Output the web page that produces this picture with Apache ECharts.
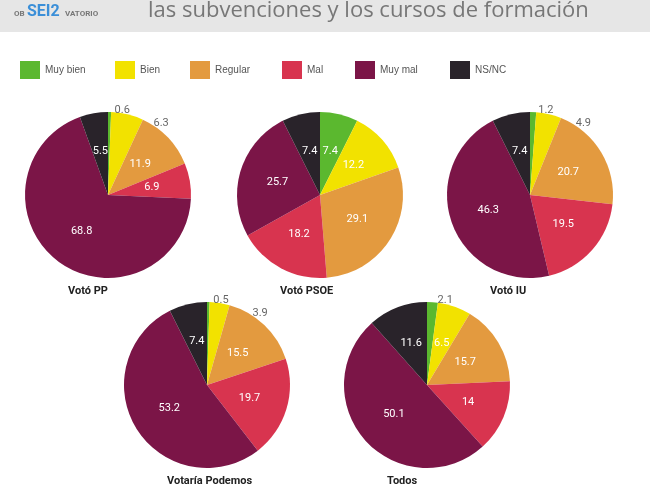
<!DOCTYPE html>
<html>
<head>
<meta charset="utf-8">
<script src="https://cdn.jsdelivr.net/npm/echarts@6/dist/echarts.min.js"></script>
<style>html,body{margin:0;padding:0;background:#fff}#main{width:650px;height:487px}</style>
</head>
<body>
<div id="main"></div>
<script>
// categorías y colores
let categorias = ['Muy bien', 'Bien', 'Regular', 'Mal', 'Muy mal', 'NS/NC'];
let colores = ['#5bb82f', '#f2e200', '#e39a3f', '#d8344f', '#7b1547', '#29232a'];
// valores por grupo
let grupos = ['Votó PP', 'Votó PSOE', 'Votó IU', 'Votaría Podemos', 'Todos'];
let votoPP = [0.6, 6.3, 11.9, 6.9, 68.8, 5.5];
let votoPSOE = [7.4, 12.2, 29.1, 18.2, 25.7, 7.4];
let votoIU = [1.2, 4.9, 20.7, 19.5, 46.3, 7.4];
let votoPodemos = [0.5, 3.9, 15.5, 19.7, 53.2, 7.4];
let todos = [2.1, 6.5, 15.7, 14, 50.1, 11.6];
let valores = [votoPP, votoPSOE, votoIU, votoPodemos, todos];

let centros = [[108, 195], [320, 195], [530, 195], [207, 385], [427, 385]];
let radio = 83;
let legendX = [15, 110, 185, 277, 350, 445];

let myChart = echarts.init(document.getElementById('main'));

let series = [];
let graphic = [
	{type: 'rect', shape: {x: 0, y: 0, width: 650, height: 32}, style: {fill: '#e6e6e6'}},
	{type: 'text', left: 14, top: 10, style: {text: 'OB', font: 'bold 8px Roboto', fill: '#777'}},
	{type: 'text', left: 27, top: 4, style: {text: 'SEI2', font: 'bold 16px Roboto', fill: '#3b8fd8'}},
	{type: 'text', left: 65, top: 10, style: {text: 'VATORIO', font: 'bold 8px Roboto', fill: '#777'}},
	{type: 'text', left: 148, top: 0, style: {text: 'las subvenciones y los cursos de formación', font: '22px "Open Sans"', fill: '#777'}}
];

for(let i = 0; i < grupos.length; i++){
	let data = [];
	for(let j = 0; j < categorias.length; j++){
		let v = valores[i][j];
		let fuera = v < 6.4 && j < 4;
		data.push({
			name: categorias[j],
			value: v,
			label: fuera ? {position: 'outside', color: '#666', distance: 6} : {position: 'inside', color: '#fff'}
		});
	}
	series.push({
		type: 'pie',
		center: centros[i],
		radius: radio,
		startAngle: 90,
		clockwise: true,
		silent: true,
		label: {show: true, formatter: '{c}', fontSize: 11, fontFamily: 'Roboto'},
		labelLine: {show: false, length: 2, length2: 0},
		itemStyle: {borderWidth: 0},
		data: data
	});
	graphic.push({
		type: 'text', left: centros[i][0] - 40, top: centros[i][1] + radio + 8,
		style: {text: grupos[i], width: 80, align: 'center', font: 'bold 11px Roboto', fill: '#222'}
	});
}

let legends = [];
for(let j = 0; j < categorias.length; j++){
	legends.push({
		data: [categorias[j]], left: legendX[j], top: 56,
		itemWidth: 20, itemHeight: 18, icon: 'rect',
		textStyle: {fontSize: 10, color: '#555'}
	});
}

let option = {
	color: colores,
	animation: false,
	legend: legends,
	graphic: graphic,
	series: series
};
myChart.setOption(option);
</script>
</body>
</html>
